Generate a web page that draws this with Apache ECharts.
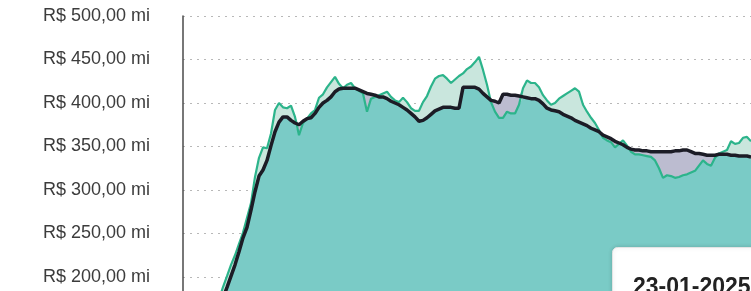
<!DOCTYPE html>
<html><head><meta charset="utf-8">
<script src="https://cdn.jsdelivr.net/npm/echarts@6/dist/echarts.min.js"></script>
<style>html,body{margin:0;padding:0;background:#fff}#c{width:751px;height:291px}</style>
</head><body><div id="c"></div>
<script>
// Valor diário (linha verde)
const valor = [
  null,null,null,null,null,null,null,null,null,
  174,188.5,201,214,225,238,251,268,285,315,
  337,349,348,365,392,400,395,394,397,384,
  363,377,382,388,392,406,410,418,424,430,
  422,417,421,423,417,414,411,390,405,407,
  409,411,413,407,403,401,406,401,394,391,
  391,401,408,419,428,431,432,428,423,427,
  431,434,439,442,447,453,438,421,401,390,
  383,383,390,388,388,398,417,426,423,423,
  418,409,403,398,400,405,408,411,414,417,
  413,398,390,383,377,369,360,357,355,349,
  353,357,351,344,341,341,340,339,338,334,
  325,314,317,316,314,315,317,318,320,322,
  328,334,330,328,337,342,344,346,356,353,
  354,360,361,356
];
// Média móvel (linha preta)
const media = [
  null,null,null,null,null,null,null,null,null,null,
  176,188,201,214,229,245,257,277,298,
  316,323,334,351,367,378,384,384,380,377,
  375,379,382,383,388,395,400,403,407,413,
  416,417,417,417,417,415,413,411,410,409,
  407,407,405,402,400,398,395,392,388,384,
  379,380,383,387,391,393,395,395,395,394,
  394,418,418,418,418,416,411,407,403,402,
  400,410,410,409,409,408,407,406,405,405,
  403,399,394,392,391,390,387,385,383,380,
  378,376,374,371,369,367,363,361,359,356,
  354,352,349,347,346,346,345,345,344,344,
  344,344,344,344,345,345,346,346,344,342,
  342,341,340,340,340,341,341,341,340,340,
  339,339,339,338
];
const yTicks = [150, 200, 250, 300, 350, 400, 450, 500];
const tooltipDate = '23-01-2025';
const categories = valor.map((_, i) => String(i));

// Derived stacks for the fill between the two lines
const base = valor.map((g, i) => {
  const b = media[i];
  if (g == null) return b;
  if (b == null) return g;
  return Math.min(g, b);
});
const upDiff = valor.map((g, i) => (g == null || media[i] == null) ? 0 : Math.max(0, g - media[i]));
const downDiff = valor.map((g, i) => (g == null || media[i] == null) ? 0 : Math.max(0, media[i] - g));

const chart = echarts.init(document.getElementById('c'), null, {renderer: 'canvas'});
chart.setOption({
  animation: false,
  backgroundColor: '#ffffff',
  grid: {left: 183, right: 0, top: 16, bottom: -29.5, containLabel: false, outerBoundsMode: 'none'},
  xAxis: {
    type: 'category', data: categories, boundaryGap: false, show: false
  },
  yAxis: {
    type: 'value', min: yTicks[0], max: yTicks[yTicks.length - 1], interval: 50,
    axisLine: {show: true, lineStyle: {color: '#4a4a4a', width: 1.5}},
    axisTick: {show: false},
    axisLabel: {
      margin: 33, fontSize: 18, color: '#3c3c3c',
      fontFamily: '"Liberation Sans", Arial, sans-serif',
      padding: [6, 0, 0, 0],
      formatter: v => 'R$ ' + v + ',00 mi'
    },
    splitLine: {show: true, lineStyle: {color: '#b8b8b8', type: [2, 5], width: 1}}
  },
  series: [
    {type: 'line', data: base, stack: 'f', symbol: 'none', lineStyle: {width: 0},
     areaStyle: {color: '#7acbc6', opacity: 1}, z: 1},
    {type: 'line', data: upDiff, stack: 'f', symbol: 'none', lineStyle: {width: 0},
     areaStyle: {color: '#c9e6dd', opacity: 1}, z: 1},
    {type: 'line', data: downDiff, stack: 'f', symbol: 'none', lineStyle: {width: 0},
     areaStyle: {color: '#bcbcd0', opacity: 1}, z: 1},
    {type: 'line', data: valor, symbol: 'none', lineStyle: {color: '#2cb48b', width: 2.2}, z: 3},
    {type: 'line', data: media, symbol: 'none', lineStyle: {color: '#1c1c26', width: 3.5}, z: 4}
  ],
  graphic: [
    {type: 'rect', left: 612, top: 247, z: 100,
     shape: {width: 170, height: 70, r: 5},
     style: {fill: '#ffffff', stroke: '#e4e4e4', lineWidth: 1, shadowBlur: 4, shadowColor: 'rgba(0,0,0,0.15)'}},
    {type: 'text', left: 633, top: 276, z: 101,
     style: {text: tooltipDate, fill: '#222222', font: 'bold 23px "Liberation Sans", Arial, sans-serif'}}
  ]
});
</script>
</body></html>
